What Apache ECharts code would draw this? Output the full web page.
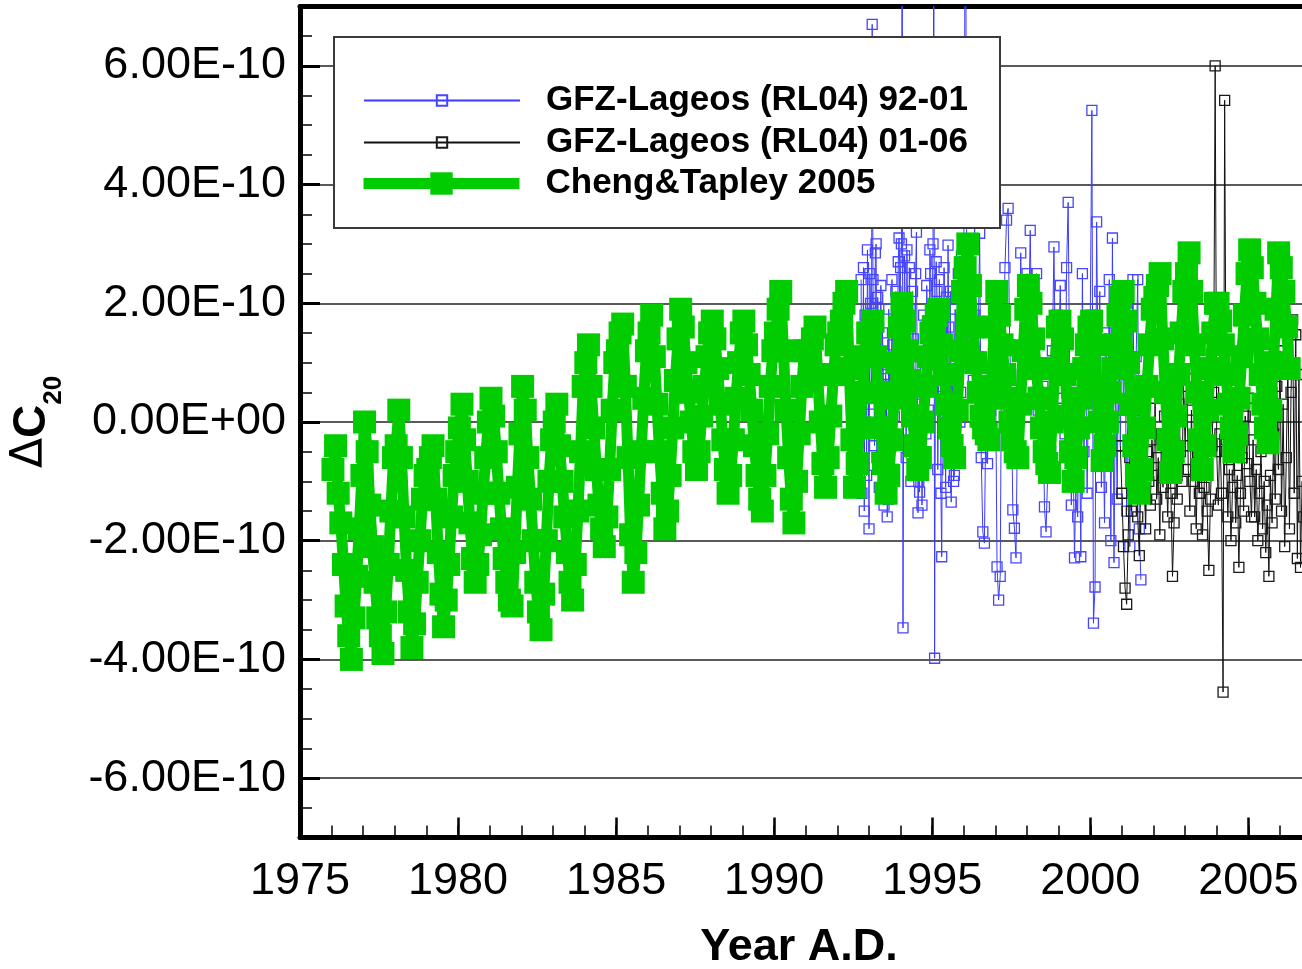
<!DOCTYPE html>
<html>
<head>
<meta charset="utf-8">
<script src="https://cdn.jsdelivr.net/npm/echarts@6/dist/echarts.min.js"></script>
<style>
  html, body { margin: 0; padding: 0; background: #fff; }
  #main { width: 1302px; height: 969px; }
</style>
</head>
<body>
<div id="main"></div>
<script>
// all dC20 values are in units of 1e-10

// Cheng & Tapley 2005, monthly from Jan 1976
var ctStart = 1976;
var chengTapley = [
  -0.8,-0.4,-1.2,-1.7,-2.4,-3.1,-3.6,-4.0,-3.3,-2.6,-1.8,-0.9,   // 1976
   0.0,-0.5,-1.4,-2.1,-2.7,-3.3,-3.6,-3.9,-3.2,-2.4,-1.5,-0.6,   // 1977
  -0.4, 0.2,-0.6,-1.6,-2.5,-3.2,-3.8,-3.4,-2.7,-2.0,-1.3,-0.9,   // 1978
  -0.8,-0.6,-0.4,-1.3,-2.2,-2.9,-3.45,-3.0,-2.4,-1.6,-0.9,-0.5,  // 1979
  -0.1, 0.3,-0.3,-1.0,-1.7,-2.3,-2.7,-2.4,-1.9,-1.2,-0.6, 0.0,   // 1980
   0.4, 0.1,-0.5,-1.2,-1.8,-2.3,-2.7,-3.0,-3.1,-2.2,-1.1,-0.2,   // 1981
   0.6, 0.2,-0.6,-1.3,-2.0,-2.7,-3.2,-3.5,-2.9,-2.0,-1.0,-0.3,   // 1982
   0.0, 0.3,-0.4,-1.0,-1.6,-2.2,-2.7,-3.0,-2.4,-1.5,-0.5, 0.6,   // 1983
   1.0, 1.3, 0.6,-0.1,-0.8,-1.4,-1.8,-2.1,-1.6,-0.8, 0.2, 1.0,   // 1984
   1.2, 1.5, 1.65,0.6,-0.6,-1.9,-2.7,-2.2,-1.4,-0.5, 0.4, 1.2,   // 1985
   1.5, 1.8, 1.1, 0.3,-0.5,-1.2,-1.8,-1.5,-0.9,-0.1, 0.7, 1.4,   // 1986
   1.9, 1.6, 1.0, 0.5, 0.0,-0.5,-0.8,-0.5, 0.1, 0.6, 1.1, 1.5,   // 1987
   1.7, 1.4, 0.9, 0.3,-0.3,-0.8,-1.2,-0.9,-0.3, 0.4, 1.0, 1.5,   // 1988
   1.7, 1.3, 0.8, 0.2,-0.4,-0.9,-1.3,-1.5,-0.9,-0.2, 0.6, 1.2,   // 1989
   1.5, 1.9, 2.2, 1.2, 0.2,-0.6,-1.3,-1.7,-1.0,-0.2, 0.6, 1.2,   // 1990
   1.2, 1.0, 1.4, 1.6, 0.8, 0.0,-0.7,-1.1,-0.6, 0.1, 0.8, 1.3,   // 1991
   1.5, 1.7, 2.0, 2.2, 0.9,-0.3,-1.1,-0.7,-0.1, 0.5, 1.1, 1.5,   // 1992
   1.5, 1.7, 1.1, 0.5,-0.1,-0.7,-1.2,-0.9,-0.3, 0.4, 1.0, 1.6,   // 1993
   2.0, 1.7, 1.2, 0.7, 0.1,-0.4,-0.8,-0.6, 0.0, 0.6, 1.1, 1.5,   // 1994
   1.6, 1.8, 1.9, 1.3, 0.8, 0.3,-0.1,-0.4,-0.6, 0.2, 1.2, 2.2,   // 1995
   2.6, 3.0, 2.3, 1.6, 1.0, 0.5, 0.1,-0.1,-0.2,-0.3, 0.6, 1.6,   // 1996
   2.2, 1.8, 1.3, 0.8, 0.4, 0.0,-0.3,-0.5,-0.6, 0.3, 1.2, 1.9,   // 1997
   2.3, 2.0, 1.4, 0.9, 0.4,-0.1,-0.5,-0.7,-0.85,0.0, 0.9, 1.6,   // 1998
   1.7, 1.4, 0.8, 0.1,-0.5,-1.0,-0.6,-0.1, 0.4, 0.9, 1.3, 1.6,   // 1999
   1.7, 1.3, 0.6, 0.0,-0.65,-0.4,0.0, 0.5, 0.9, 1.3, 1.8, 2.1,   // 2000
   2.2, 1.7, 1.0, 0.3,-0.4,-0.9,-1.2,-0.8,-0.1, 0.6, 1.3, 1.9,   // 2001
   2.1, 2.3, 2.5, 1.4, 0.5,-0.3,-0.85,-0.5,0.1, 0.8, 1.5, 2.2,   // 2002
   2.5, 2.85,2.2, 1.3, 0.5,-0.3,-0.8,-0.4, 0.2, 0.9, 1.5, 2.0,   // 2003
   2.0, 1.7, 1.3, 0.8, 0.3,-0.1,-0.5,-0.2, 0.4, 1.1, 1.8, 2.5,   // 2004
   2.9, 2.6, 2.0, 1.4, 0.8, 0.3,-0.1,-0.35,0.2, 1.0, 1.9, 2.85,  // 2005
   2.6, 2.2, 1.6, 0.9                                            // 2006
];

// GFZ-Lageos (RL04) 92-01: every 0.025 yr from 1992.75 to 1996.0 ...
var gfzAStart = 1992.75, gfzAStep = 0.025;
var gfz9201a = [
   2.4,-1.2, 0.5, 2.6,-1.5, 1.8, 1.2,-0.9, 2.9, 1.4,                                                    // 1992
  -1.8, 2.5, 2.0, 0.3, 6.7, 2.4, 1.1,-0.4, 2.85,3.0,-0.6, 2.1, 1.6,-1.1, 0.2, 2.3,-1.2, 1.5, 0.9,-1.4,
  -1.0, 0.8, 0.4,-1.6,-1.3, 1.9, 0.6,-0.2,-0.4, 2.4, 1.3,-0.8, 0.1, 1.6, 2.2, 0.4, 1.0, 2.7, 3.1, 1.7, // 1993
   2.6, 3.0, 9.5,-3.47,1.2, 2.8, 1.8,-0.6, 2.9, 1.0, 0.5, 2.6, 1.9,-1.0,-0.3, 2.2, 1.4,-0.7, 0.2, 2.5,
   3.2, 0.6,-1.53,-1.0,-1.18,1.1,0.3,-1.4,-0.8, 1.8, 1.0,-0.5,-0.2, 2.3, 1.7, 0.2, 0.8, 2.9, 2.5, 1.2,  // 1994
   1.9, 3.0, 9.0,-3.98,1.0, 2.7, 2.2,-0.8, 0.6, 2.4, 1.5,-1.2,-2.27,0.9, 1.2, 2.6, 0.1,-1.1, 2.1, 0.5,
   2.98,1.6,-0.5, 2.2,-1.35,0.7, 0.4,-1.0,-0.9, 1.9, 0.8,-0.6,-0.3, 2.5, 1.4, 0.0, 0.5, 2.8, 2.3, 1.0,  // 1995
   2.7
];
// ... then every 0.05 yr from 1996.05
var gfzBStart = 1996.05, gfzBStep = 0.05;
var gfz9201b = [
        9.8, 1.2, 2.9, 1.5, 2.4, 0.7, 1.8, 0.0, 1.1, 3.18,-0.6,-1.85,-2.04,0.3,-0.7, 0.9, 0.2, 1.6, 2.2, // 1996
   1.0,-2.44,-3.0,-2.6,1.8, 0.9, 2.6, 3.4, 3.6, 1.3, 0.4,-1.48,-1.79,-2.29,0.2,-0.6, 2.85,0.8, 1.9, 1.2, // 1997
   2.5, 1.6, 3.23,1.1, 2.0, 0.5, 2.5, 0.2, 1.0,-0.4, 0.6,-1.43,-1.85,-0.9,0.3,-0.5, 1.2, 2.95,0.7, 1.8,  // 1998
   1.1, 2.3, 0.4, 1.6,-0.2, 2.6, 3.7, 0.5,-1.4,-0.3,-2.29,-0.8,-1.6, 0.4,-2.27,2.5,-0.5, 1.3,-1.2, 0.9,  // 1999
   1.8, 5.25,-3.39,-2.78,3.37,0.6, 2.2,-1.1, 0.3,-1.7, 1.5,-0.6, 2.4,-2.0, 3.1,-2.37,0.9,-1.3, 1.6,-0.4, // 2000
   2.0, 0.2, 1.3,-1.5, 0.8,-2.1, 0.5, 2.4,-0.9, 1.1, 2.4,-1.8,-2.66                                      // 2001
];

// GFZ-Lageos (RL04) 01-06, every 0.05 yr from 2000.95
var gfz2Start = 2000.95, gfz2Step = 0.05;
var gfz0106 = [
  -0.4,-1.2,
  -2.1,-2.8,-3.07,-1.9,-0.6,-1.5,-0.2,-1.1,-0.7,-1.6,-2.25,-0.9, 0.2,-0.8,-1.8,-0.5,-1.0,-1.4,-0.3,     // 2001
  -0.9, 0.4,-1.3,-0.6,-1.9,-0.2,-1.1, 0.1,-0.8,-1.6,-0.4,-1.2,-2.6,-1.7,-0.7,-1.3, 0.3,-0.5,-1.0, 0.6, // 2002
  -0.4, 0.9,-0.8,-1.5, 0.2,-1.0,-0.3,-1.8,-0.6,-1.2,-0.2,-1.9,-1.1,-0.5,-1.5,-2.5,-1.3,-0.4, 0.5, 6.0, // 2003
  -0.5,-1.4,-0.2,-1.2,-4.55,5.42,-0.3,-1.6,-0.8,-2.0,-1.1,-0.4,-1.7,-0.9,-2.45,-1.2,-0.6,-1.5,0.1,-0.7, // 2004
   0.4,-1.0,-1.6,-0.3,-1.6,-0.8,-2.0,-1.2,-0.5,-1.8,-1.0,-2.2,-1.4,-2.6,-0.9,-1.7,-0.2,-1.3, 0.6,-0.8, // 2005
   1.2,-1.5, 0.3,-2.1,-0.6, 1.0,-1.8, 0.5, 1.72,-1.2,1.47,-2.3, 0.8,-2.45,-1.0,-1.6                     // 2006
];

var seriesNames = ['GFZ-Lageos (RL04) 92-01', 'GFZ-Lageos (RL04) 01-06', 'Cheng&Tapley 2005'];
var c20Ticks = [-6, -4, -2, 0, 2, 4, 6];
// the plot runs a few pixels past the right edge of the picture
var yearMin = 1975, yearMax = 2006.95;

function toPairs(vals, start, step) {
  return vals.map(function (v, i) { return [start + i * step, v]; });
}

function c20Label(v) {
  var k = Math.round(v);
  if (c20Ticks.indexOf(k) < 0) return '';
  return k === 0 ? '0.00E+00' : k.toFixed(2) + 'E-10';
}

var FONT = 'Liberation Sans';
var chart = echarts.init(document.getElementById('main'));

var legendText = { fontFamily: FONT, fontSize: 35, fontWeight: 'bold', color: '#000', padding: [0, 0, 0, 21] };

var gfz9201Data = toPairs(gfz9201a, gfzAStart, gfzAStep).concat(toPairs(gfz9201b, gfzBStart, gfzBStep));

var option = {
  animation: false,
  textStyle: { fontFamily: FONT },
  grid: { left: 300, right: -8, top: 6.5, bottom: 131.5, outerBoundsMode: 'none', containLabel: false },
  graphic: [{
    type: 'rect', z: 50,
    shape: { x: 334, y: 37, width: 666, height: 191 },
    style: { fill: '#fff', stroke: '#3a3a3a', lineWidth: 2 }
  }],
  legend: [
    { data: [seriesNames[0]], left: 363, top: 83, itemWidth: 156, itemHeight: 13, padding: 0, z: 60, textStyle: legendText },
    { data: [seriesNames[1]], left: 363, top: 125, itemWidth: 156, itemHeight: 13, padding: 0, z: 60, textStyle: legendText },
    { data: [seriesNames[2]], left: 358, top: 166, itemWidth: 156, itemHeight: 28, padding: 0, z: 60, textStyle: legendText,
      lineStyle: { width: 11, color: '#00cc00' } }
  ],
  xAxis: [
    {
      type: 'value', position: 'bottom', min: yearMin, max: yearMax, interval: 5,
      axisLine: { onZero: false, lineStyle: { color: '#000', width: 5 } },
      axisTick: { inside: true, length: 20, lineStyle: { color: '#000', width: 2.5 } },
      axisLabel: { fontSize: 45, color: '#000', margin: 22,
        formatter: function (v) { return v % 5 === 0 ? String(v) : ''; } },
      splitLine: { show: false },
      name: 'Year A.D.', nameLocation: 'middle', nameGap: 88,
      nameTextStyle: { fontSize: 45, fontWeight: 'bold', color: '#000', padding: [0, 12, 0, 0] }
    },
    {
      type: 'value', position: 'bottom', min: yearMin, max: yearMax, interval: 1,
      axisLine: { show: false, onZero: false },
      axisTick: { inside: true, length: 12, lineStyle: { color: '#000', width: 1.5 } },
      axisLabel: { show: false }, splitLine: { show: false }
    },
    {
      type: 'value', position: 'top', min: yearMin, max: yearMax,
      axisLine: { onZero: false, lineStyle: { color: '#000', width: 5 } },
      axisTick: { show: false }, axisLabel: { show: false }, splitLine: { show: false }
    }
  ],
  yAxis: [
    {
      type: 'value', position: 'left', min: -7, max: 7, interval: 1,
      axisLine: { onZero: false, lineStyle: { color: '#000', width: 5 } },
      axisTick: { show: false },
      axisLabel: { fontSize: 45, color: '#000', margin: 14, formatter: c20Label },
      splitLine: { show: true, showMinLine: true, showMaxLine: true,
        lineStyle: { color: ['rgba(0,0,0,0)', '#222'], width: 1.6 } },
      name: '{d|Δ}{c|C}{s|20}', nameLocation: 'middle', nameRotate: 90, nameGap: 233,
      nameTextStyle: {
        rich: {
          d: { fontSize: 44, fontFamily: 'DejaVu Sans', color: '#000', verticalAlign: 'top' },
          c: { fontSize: 46, fontWeight: 'bold', fontFamily: FONT, color: '#000', verticalAlign: 'top' },
          s: { fontSize: 26, fontWeight: 'bold', fontFamily: FONT, color: '#000', verticalAlign: 'bottom', lineHeight: 58 }
        }
      }
    },
    {
      type: 'value', position: 'left', min: -7, max: 7, interval: 0.5,
      axisLine: { show: false, onZero: false },
      axisTick: { inside: true, length: 12, lineStyle: { color: '#000', width: 1.5 } },
      axisLabel: { show: false }, splitLine: { show: false }
    },
    {
      type: 'value', position: 'left', min: -7, max: 7, interval: 1,
      axisLine: { show: false, onZero: false },
      axisTick: { inside: true, length: 20, customValues: c20Ticks, lineStyle: { color: '#000', width: 3 } },
      axisLabel: { show: false }, splitLine: { show: false }
    }
  ],
  series: [
    {
      name: seriesNames[0], type: 'line', z: 2,
      data: gfz9201Data,
      symbol: 'rect', symbolSize: 10, showAllSymbol: true,
      lineStyle: { color: '#3b3bff', width: 1 },
      itemStyle: { color: 'rgba(0,0,0,0)', borderColor: '#4646ff', borderWidth: 1.3 },
      emphasis: { disabled: true }
    },
    {
      name: seriesNames[1], type: 'line', z: 3,
      data: toPairs(gfz0106, gfz2Start, gfz2Step),
      symbol: 'rect', symbolSize: 10, showAllSymbol: true,
      lineStyle: { color: '#111', width: 1 },
      itemStyle: { color: 'rgba(0,0,0,0)', borderColor: '#1a1a1a', borderWidth: 1.3 },
      emphasis: { disabled: true }
    },
    {
      name: seriesNames[2], type: 'line', z: 4,
      data: toPairs(chengTapley, ctStart + 0.5 / 12, 1 / 12),
      symbol: 'rect', symbolSize: 23, showAllSymbol: true,
      lineStyle: { color: '#00cc00', width: 11 },
      itemStyle: { color: '#00cc00' },
      emphasis: { disabled: true }
    }
  ]
};

chart.setOption(option);
</script>
</body>
</html>
